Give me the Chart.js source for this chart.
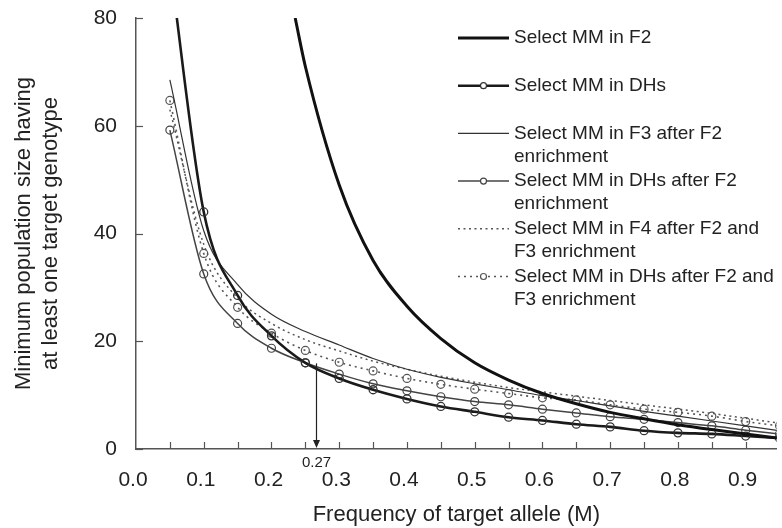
<!DOCTYPE html>
<html>
<head>
<meta charset="utf-8">
<title>Minimum population size vs. target allele frequency</title>
<script src="https://cdn.jsdelivr.net/npm/chart.js@4.4.1/dist/chart.umd.min.js"></script>
<style>
  html, body { margin: 0; padding: 0; background: #fff; }
  #wrap { width: 782px; height: 528px; }
</style>
</head>
<body>
<div id="wrap"><canvas id="chart" width="782" height="528"></canvas></div>
<script>
// ── Data ───────────────────────────────────────────────────
const alleleFreq = [0.05, 0.10, 0.15, 0.20, 0.25, 0.30, 0.35, 0.40, 0.45, 0.50,
                    0.55, 0.60, 0.65, 0.70, 0.75, 0.80, 0.85, 0.90, 0.95];

// F2 curve only enters the plot near 0.235
const f2Freq     = [0.235, 0.25, 0.30, 0.35, 0.40, 0.45, 0.50, 0.55, 0.60, 0.65,
                    0.70, 0.75, 0.80, 0.85, 0.90, 0.95];
const selectF2   = [80, 71, 49, 35, 26.5, 20.5, 16, 12.8, 10.3, 8.4,
                    6.8, 5.6, 4.5, 3.6, 2.8, 2.0];

const selectDH       = [90, 44, 28.5, 21, 16, 13.1, 11, 9.3, 7.9, 6.9,
                        5.9, 5.3, 4.6, 4.1, 3.4, 3.0, 2.8, 2.4, 2.0];
const selectF3F2     = [68.5, 40.5, 30.5, 25, 21.8, 19.3, 16.8, 14.8, 13.3, 12.1,
                        11.0, 9.9, 9.0, 8.0, 7.0, 6.1, 5.2, 4.3, 3.4];
const selectDHF2     = [59.2, 32.5, 23.3, 18.7, 16, 13.9, 12.1, 10.8, 9.7, 8.8,
                        8.2, 7.4, 6.7, 6.0, 5.5, 4.9, 4.3, 3.5, 2.8];
const selectF4F2F3   = [63, 38, 28, 23.3, 20.3, 18.2, 16.3, 14.8, 13.5, 12.4,
                        11.4, 10.6, 9.8, 9.0, 8.2, 7.4, 6.6, 5.7, 4.8];
const selectDHF2F3   = [64.7, 36.3, 26.3, 21.5, 18.3, 16.1, 14.5, 13.1, 12.0, 11.1,
                        10.3, 9.5, 9.1, 8.2, 7.4, 6.8, 6.1, 5.1, 4.3];

const seriesLabels = [
  ['Select MM in F2'],
  ['Select MM in DHs'],
  ['Select MM in F3 after F2', 'enrichment'],
  ['Select MM in DHs after F2', 'enrichment'],
  ['Select MM in F4 after F2 and', 'F3 enrichment'],
  ['Select MM in DHs after F2 and', 'F3 enrichment']
];

const xTickMarks = [0.05, 0.10, 0.15, 0.20, 0.25, 0.30, 0.35, 0.40, 0.45,
                    0.50, 0.55, 0.60, 0.65, 0.70, 0.75, 0.80, 0.85, 0.90];
const yTickMarks = [0, 20, 40, 60, 80];
const crossFreq  = 0.265;   // arrow, labelled 0.27
const crossLabel = '0.27';
const crossSize  = 15.9;

// ── Helpers ────────────────────────────────────────────────
const FONT      = '"Liberation Sans", Arial, Helvetica, sans-serif';
const TEXT      = '#222';
const AXIS      = '#555';
const toPoints  = (xs, ys) => xs.map((x, i) => ({ x, y: ys[i] }));

const marker = {
  pointRadius: 4,
  pointHoverRadius: 4,
  pointStyle: 'circle',
  pointBackgroundColor: 'rgba(255,255,255,0)'
};

const datasets = [
  { data: toPoints(f2Freq, selectF2), borderColor: '#111', borderWidth: 3, pointRadius: 0 },
  Object.assign({ data: toPoints(alleleFreq, selectDH), borderColor: '#1a1a1a', borderWidth: 2.6,
                  pointBorderColor: '#333', pointBorderWidth: 1.3 }, marker),
  { data: toPoints(alleleFreq, selectF3F2), borderColor: '#333', borderWidth: 1.2, pointRadius: 0 },
  Object.assign({ data: toPoints(alleleFreq, selectDHF2), borderColor: '#444', borderWidth: 1.5,
                  pointBorderColor: '#444', pointBorderWidth: 1.2 }, marker),
  { data: toPoints(alleleFreq, selectF4F2F3), borderColor: '#555', borderWidth: 1.5,
    borderDash: [2, 3.5], pointRadius: 0 },
  Object.assign({ data: toPoints(alleleFreq, selectDHF2F3), borderColor: '#555', borderWidth: 1.6,
                  borderDash: [2, 4], pointBorderColor: '#555', pointBorderWidth: 1.2 }, marker)
];
datasets.forEach((d, i) => {
  d.label = seriesLabels[i].join(' ');
  d.fill = false;
  d.cubicInterpolationMode = 'monotone';
});

// ── Decorations: inside ticks, arrow, legend ───────────────
const decorPlugin = {
  id: 'decor',
  afterDraw(chart) {
    const { ctx, scales: { x, y } } = chart;
    ctx.save();

    // tick marks pointing into the plot
    ctx.strokeStyle = AXIS;
    ctx.lineWidth = 1.2;
    xTickMarks.forEach(v => {
      const px = Math.round(x.getPixelForValue(v)) + 0.5;
      ctx.beginPath(); ctx.moveTo(px, y.bottom); ctx.lineTo(px, y.bottom - 7); ctx.stroke();
    });
    yTickMarks.forEach(v => {
      const py = Math.round(y.getPixelForValue(v)) + 0.5;
      ctx.beginPath(); ctx.moveTo(x.left, py); ctx.lineTo(x.left + 7, py); ctx.stroke();
    });

    // arrow at crossing point
    const ax = Math.round(x.getPixelForValue(crossFreq)) + 0.5;
    const ay0 = y.getPixelForValue(crossSize);
    const ay1 = y.bottom - 1;
    ctx.strokeStyle = '#222';
    ctx.lineWidth = 1.2;
    ctx.beginPath(); ctx.moveTo(ax, ay0); ctx.lineTo(ax, ay1 - 6); ctx.stroke();
    ctx.fillStyle = '#222';
    ctx.beginPath();
    ctx.moveTo(ax - 3.5, ay1 - 8); ctx.lineTo(ax + 3.5, ay1 - 8); ctx.lineTo(ax, ay1);
    ctx.closePath(); ctx.fill();
    ctx.font = '15px ' + FONT;
    ctx.fillStyle = TEXT;
    ctx.textAlign = 'center';
    ctx.textBaseline = 'middle';
    ctx.fillText(crossLabel, ax, 463);

    // legend
    const lx0 = 458, lx1 = 509, tx = 514;
    ctx.font = '19px ' + FONT;
    ctx.textAlign = 'left';
    seriesLabels.forEach((lines, i) => {
      const ds = chart.data.datasets[i];
      const ry = 38 + i * 47.7;
      ctx.strokeStyle = ds.borderColor;
      ctx.lineWidth = ds.borderWidth;
      ctx.setLineDash(ds.borderDash || []);
      ctx.beginPath(); ctx.moveTo(lx0, ry); ctx.lineTo(lx1, ry); ctx.stroke();
      ctx.setLineDash([]);
      if (ds.pointRadius) {
        ctx.lineWidth = 1.2;
        ctx.strokeStyle = ds.pointBorderColor;
        ctx.fillStyle = '#fff';
        ctx.beginPath(); ctx.arc((lx0 + lx1) / 2, ry, 3, 0, Math.PI * 2);
        ctx.fill(); ctx.stroke();
      }
      ctx.fillStyle = TEXT;
      lines.forEach((t, k) => ctx.fillText(t, tx, ry + k * 23));
    });

    ctx.restore();
  }
};

// ── Chart ──────────────────────────────────────────────────
const chart = new Chart(document.getElementById('chart').getContext('2d'), {
  type: 'line',
  data: { datasets },
  options: {
    responsive: false,
    animation: false,
    layout: { padding: { top: 18, right: 0, left: 0, bottom: 0 } },
    plugins: { legend: { display: false }, tooltip: { enabled: false } },
    scales: {
      x: {
        type: 'linear',
        min: 0,
        max: 0.9458,
        grid: { display: false, drawTicks: false },
        border: { display: true, color: AXIS, width: 1.5 },
        ticks: {
          stepSize: 0.1,
          includeBounds: false,
          padding: 19,
          labelOffset: -3,
          color: TEXT,
          font: { family: FONT, size: 21 },
          maxRotation: 0,
          callback: v => Number(v).toFixed(1)
        },
        title: {
          display: true,
          text: 'Frequency of target allele (M)',
          color: TEXT,
          font: { family: FONT, size: 22 },
          padding: { top: 0, bottom: 0 }
        },
        afterFit: s => { s.height = 79; s.paddingLeft = 0; s.paddingRight = 0; }
      },
      y: {
        min: 0,
        max: 80,
        grid: { display: false, drawTicks: false },
        border: { display: true, color: AXIS, width: 1.5 },
        ticks: {
          stepSize: 20,
          padding: 19,
          color: TEXT,
          font: { family: FONT, size: 21 }
        },
        title: {
          display: true,
          text: ['Minimum population size having', 'at least one target genotype'],
          color: TEXT,
          font: { family: FONT, size: 22 },
          padding: { top: 11, bottom: 0 }
        },
        afterFit: s => { s.width = 136; s.paddingTop = 0; s.paddingBottom = 0; }
      }
    }
  },
  plugins: [decorPlugin]
});
</script>
</body>
</html>
